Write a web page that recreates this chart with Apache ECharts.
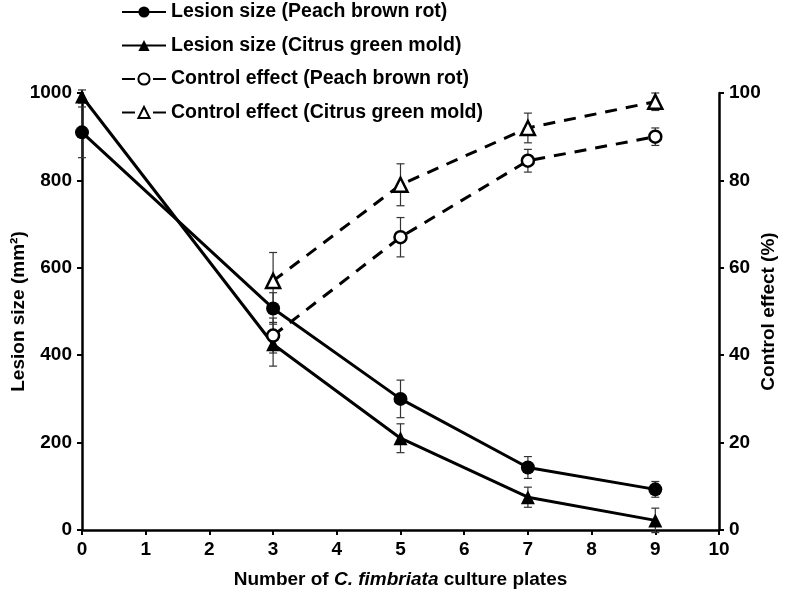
<!DOCTYPE html>
<html>
<head>
<meta charset="utf-8">
<script src="https://cdn.jsdelivr.net/npm/echarts@6/dist/echarts.min.js"></script>
<style>html,body{margin:0;padding:0;background:#fff}#c{width:786px;height:594px}</style>
</head>
<body>
<div id="c"></div>
<script>
// Data
var xLesion = [0, 3, 5, 7, 9];
var xControl = [3, 5, 7, 9];
var lesionPeach = [910, 507, 300, 143, 93];
var lesionPeachErr = [58, 36, 43, 25, 18];
var lesionCitrus = [992, 425, 210, 75, 22];
var lesionCitrusErr = [15, 50, 33, 23, 28];
var controlPeach = [44.5, 67, 84.5, 90];
var controlPeachErr = [4, 4.5, 2.6, 2];
var controlCitrus = [57, 79, 92, 98];
var controlCitrusErr = [6.5, 4.8, 3.4, 2];
var seriesNames = [
  'Lesion size (Peach brown rot)',
  'Lesion size (Citrus green mold)',
  'Control effect (Peach brown rot)',
  'Control effect (Citrus green mold)'
];

function pairs(xs, ys) { return xs.map(function (x, i) { return [x, ys[i]]; }); }
function triples(xs, ys, es) { return xs.map(function (x, i) { return [x, ys[i], es[i]]; }); }

var FONT = '"Liberation Sans", Arial, sans-serif';

function errRender(params, api) {
  var x = api.value(0), y = api.value(1), e = api.value(2);
  var t = api.coord([x, y + e]);
  var b = api.coord([x, y - e]);
  var w = 4;
  var st = { stroke: '#333', lineWidth: 1.2 };
  return {
    type: 'group',
    children: [
      { type: 'line', shape: { x1: t[0], y1: t[1], x2: b[0], y2: b[1] }, style: st },
      { type: 'line', shape: { x1: t[0] - w, y1: t[1], x2: t[0] + w, y2: t[1] }, style: st },
      { type: 'line', shape: { x1: b[0] - w, y1: b[1], x2: b[0] + w, y2: b[1] }, style: st }
    ]
  };
}

function errSeries(xs, ys, es, yIdx) {
  return {
    type: 'custom', yAxisIndex: yIdx, renderItem: errRender, z: 1,
    data: triples(xs, ys, es), encode: { x: 0, y: 1 }, silent: true
  };
}

var chart = echarts.init(document.getElementById('c'), null, { renderer: 'canvas' });

var labelStyle = { color: '#000', fontSize: 19, fontWeight: 'bold', fontFamily: FONT,
  formatter: function (v) { return String(v); } };
var axisCommon = {
  axisLine: { show: true, lineStyle: { color: '#000', width: 2.5 } },
  axisTick: { show: true, length: 5, lineStyle: { color: '#000', width: 2 } },
  splitLine: { show: false },
  nameMoveOverlap: false
};
var nameStyle = { fontSize: 19, fontWeight: 'bold', fontFamily: FONT, color: '#000' };

var option = {
  animation: false,
  backgroundColor: '#fff',
  grid: { left: 82, right: 67, top: 93, bottom: 64, containLabel: false, outerBoundsMode: 'none' },
  legend: {
    orient: 'vertical', left: 116, top: -3,
    itemWidth: 44, itemHeight: 14, itemGap: 13.5,
    textStyle: { color: '#000', fontSize: 19.5, fontWeight: 'bold', fontFamily: FONT },
    data: [
      { name: seriesNames[0] },
      { name: seriesNames[1] },
      { name: seriesNames[2], lineStyle: { type: [13, 18] } },
      { name: seriesNames[3], lineStyle: { type: [13, 18] } }
    ]
  },
  xAxis: Object.assign({}, axisCommon, {
    type: 'value', min: 0, max: 10, interval: 1,
    name: '{n|Number of }{i|C. fimbriata}{n| culture plates}',
    nameLocation: 'middle', nameGap: 40,
    nameTextStyle: {
      rich: {
        n: nameStyle,
        i: Object.assign({}, nameStyle, { fontStyle: 'italic' })
      }
    },
    axisLabel: Object.assign({}, labelStyle, { margin: 10 })
  }),
  yAxis: [
    Object.assign({}, axisCommon, {
      type: 'value', min: 0, max: 1000, interval: 200, position: 'left',
      name: 'Lesion size (mm²)', nameLocation: 'middle', nameGap: 54,
      nameTextStyle: nameStyle,
      axisLabel: Object.assign({}, labelStyle, { margin: 10 })
    }),
    Object.assign({}, axisCommon, {
      type: 'value', min: 0, max: 100, interval: 20, position: 'right',
      name: 'Control effect (%)', nameLocation: 'middle', nameGap: 40, nameRotate: 90,
      nameTextStyle: nameStyle,
      axisLabel: Object.assign({}, labelStyle, { margin: 10 })
    })
  ],
  series: [
    {
      name: seriesNames[0], type: 'line', yAxisIndex: 0, z: 3,
      data: pairs(xLesion, lesionPeach),
      symbol: 'circle', symbolSize: 14,
      lineStyle: { color: '#000', width: 3 },
      itemStyle: { color: '#000', borderColor: '#000', borderWidth: 0 }
    },
    {
      name: seriesNames[1], type: 'line', yAxisIndex: 0, z: 3,
      data: pairs(xLesion, lesionCitrus),
      symbol: 'triangle', symbolSize: 14,
      lineStyle: { color: '#000', width: 3 },
      itemStyle: { color: '#000', borderColor: '#000', borderWidth: 0 }
    },
    {
      name: seriesNames[2], type: 'line', yAxisIndex: 1, z: 3,
      data: pairs(xControl, controlPeach),
      symbol: 'circle', symbolSize: 12,
      lineStyle: { color: '#000', width: 3, type: [12, 9] },
      itemStyle: { color: '#fff', borderColor: '#000', borderWidth: 2.5 }
    },
    {
      name: seriesNames[3], type: 'line', yAxisIndex: 1, z: 3,
      data: pairs(xControl, controlCitrus),
      symbol: 'triangle', symbolSize: 14,
      lineStyle: { color: '#000', width: 3, type: [12, 9] },
      itemStyle: { color: '#fff', borderColor: '#000', borderWidth: 2.5 }
    },
    errSeries(xLesion, lesionPeach, lesionPeachErr, 0),
    errSeries(xLesion, lesionCitrus, lesionCitrusErr, 0),
    errSeries(xControl, controlPeach, controlPeachErr, 1),
    errSeries(xControl, controlCitrus, controlCitrusErr, 1)
  ]
};
chart.setOption(option);
</script>
</body>
</html>
